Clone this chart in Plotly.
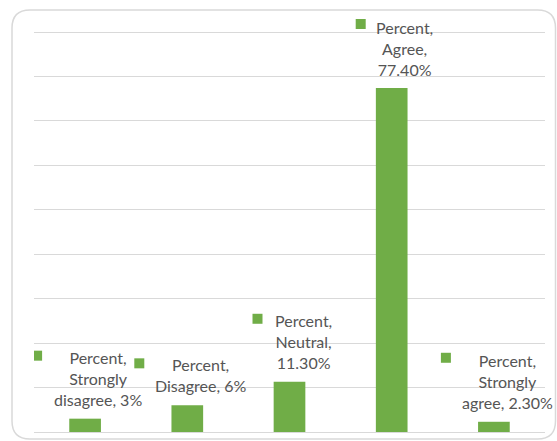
import plotly.graph_objects as go

# Survey response shares
categories = ["Strongly disagree", "Disagree", "Neutral", "Agree", "Strongly agree"]
values = [3.0, 6.0, 11.3, 77.4, 2.3]
value_text = ["3%", "6%", "11.30%", "77.40%", "2.30%"]
series_name = "Percent"
# Category name lines as they wrap inside each data label
name_lines = [["Strongly", "disagree"], ["Disagree"], ["Neutral"], ["Agree"], ["Strongly", "agree"]]
# Whether the value sits on its own line
value_on_own_line = [False, False, True, True, False]

BAR_COLOR = "#70AD47"
TEXT_COLOR = "#555555"
GRID_COLOR = "#D9D9D9"

W, H = 557, 441
ML, MR, MT, MB = 34, 12, 5, 9
GRID_TOP = 90          # highest gridline value
GRID_TOP_PX = 32       # its distance from the top of the page

# Data-label offsets (pixels) from each bar's top centre: text block, legend key
text_dx = [13, 13, 14, 13, 14]
text_dy = [40, 30, 40, 40, 40]
key_dx = [-48, -48, -32, -31, -48]
key_dy = [63, 42, 63, 64, 64]

ph = H - MT - MB
pw = W - ML - MR
y_max = GRID_TOP * ph / (H - MB - GRID_TOP_PX)

fig = go.Figure(
    go.Bar(
        x=categories,
        y=values,
        name=series_name,
        marker=dict(color=BAR_COLOR, line=dict(width=0)),
        width=0.31,
    )
)

annotations = []
shapes = []
for i, cat in enumerate(categories):
    lines = [f"{series_name},"] + name_lines[i][:-1]
    if value_on_own_line[i]:
        lines += [f"{name_lines[i][-1]},", value_text[i]]
    else:
        lines.append(f"{name_lines[i][-1]}, {value_text[i]}")
    annotations.append(dict(
        x=cat, y=values[i], xref="x", yref="y",
        text="<br>".join(lines), showarrow=False,
        xanchor="center", yanchor="middle", align="center",
        xshift=text_dx[i], yshift=text_dy[i],
        font=dict(family="Lato, Carlito, sans-serif", size=16, color=TEXT_COLOR),
    ))
    # small legend key beside each data label
    shapes.append(dict(
        type="rect", xref="x", yref="y",
        xsizemode="pixel", ysizemode="pixel",
        xanchor=cat, yanchor=values[i],
        x0=key_dx[i] - 5, x1=key_dx[i] + 5,
        y0=key_dy[i] - 5, y1=key_dy[i] + 5,
        fillcolor=BAR_COLOR, line=dict(width=0), layer="above",
    ))


def px(x):
    return (x - ML) / pw


def py(y):
    return (H - MB - y) / ph


# Rounded chart-area border
bx0, by0, bx1, by1, r = 12, 10, 555.5, 439, 18
path = (
    f"M {px(bx0 + r)},{py(by0)} L {px(bx1 - r)},{py(by0)} "
    f"Q {px(bx1)},{py(by0)} {px(bx1)},{py(by0 + r)} "
    f"L {px(bx1)},{py(by1 - r)} Q {px(bx1)},{py(by1)} {px(bx1 - r)},{py(by1)} "
    f"L {px(bx0 + r)},{py(by1)} Q {px(bx0)},{py(by1)} {px(bx0)},{py(by1 - r)} "
    f"L {px(bx0)},{py(by0 + r)} Q {px(bx0)},{py(by0)} {px(bx0 + r)},{py(by0)} Z"
)
shapes.append(dict(type="path", xref="paper", yref="paper", path=path,
                   line=dict(color=GRID_COLOR, width=1.5), layer="below"))

fig.update_layout(
    width=W, height=H,
    margin=dict(l=ML, r=MR, t=MT, b=MB, pad=0),
    paper_bgcolor="white", plot_bgcolor="white",
    showlegend=False,
    annotations=annotations,
    shapes=shapes,
    xaxis=dict(type="category", range=[-0.5, len(categories) - 0.5],
               showticklabels=False, showgrid=False, showline=False,
               zeroline=False, ticks=""),
    yaxis=dict(range=[0, y_max], tick0=0, dtick=10, showticklabels=False,
               showgrid=True, gridcolor=GRID_COLOR, gridwidth=1,
               zeroline=True, zerolinecolor=GRID_COLOR, zerolinewidth=1,
               showline=False, ticks=""),
)

fig.write_html("out.html")
